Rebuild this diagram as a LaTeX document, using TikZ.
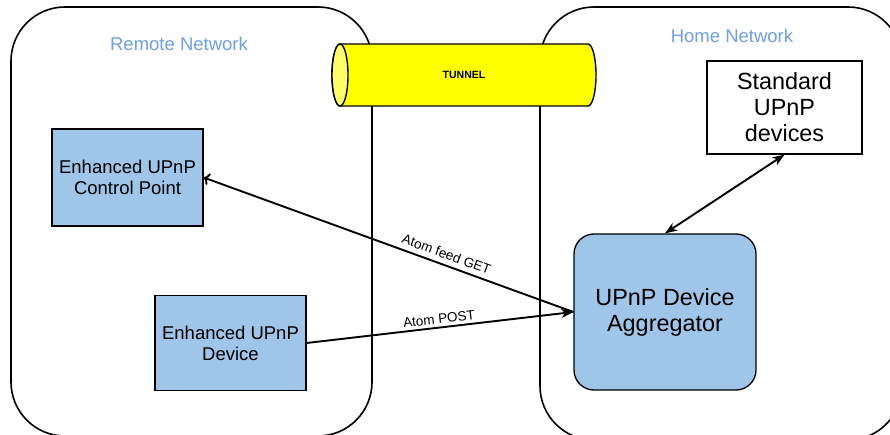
\documentclass[tikz,border=0pt]{standalone}
\usepackage{fontspec}
\setmainfont{Liberation Sans}
\usetikzlibrary{arrows.meta}
\definecolor{boxblue}{HTML}{9FC5E8}
\definecolor{netblue}{HTML}{6D9EEB}
\definecolor{tunyellow}{HTML}{FFFF00}
\definecolor{capyellow}{HTML}{FFFF66}
\tikzset{
  container/.style={draw=black, line width=1.6pt, rounded corners=54pt},
  bluebox/.style={draw=black, line width=1.3pt, fill=boxblue, align=center, inner sep=2pt,
    font=\fontsize{18.5}{21}\selectfont},
  whitebox/.style={draw=black, line width=1.3pt, fill=white, align=center, inner sep=2pt,
    font=\fontsize{23.4}{26}\selectfont},
  netlabel/.style={text=netblue, font=\fontsize{18.5}{21}\selectfont},
  conn/.style={line width=1.9pt, -{Stealth[length=12pt,width=9pt,inset=3.5pt]}},
  dconn/.style={line width=1.9pt, {Stealth[length=12pt,width=9pt,inset=3.5pt]}-{Stealth[length=12pt,width=9pt,inset=3.5pt]}},
  edgelabel/.style={font=\fontsize{13.5}{15}\selectfont, inner sep=1pt},
}
\begin{document}
\begin{tikzpicture}[x=1pt,y=-1pt]
\useasboundingbox (0,0) rectangle (890,435);
\clip (0,0) rectangle (890,435);
% containers
\draw[container] (11,7) rectangle (372,436);
\draw[container] (540,7) rectangle (902,440);
\node[netlabel] (remote) at (179,44) {Remote Network};
\node[netlabel] (home) at (732,36) {Home Network};
% tunnel
\draw[line width=1.4pt, fill=tunyellow] (340,44) -- (588,44)
  arc[start angle=90, end angle=-90, x radius=8pt, y radius=31pt]
  -- (340,106)
  arc[start angle=270, end angle=90, x radius=8pt, y radius=31pt] -- cycle;
\draw[line width=1.4pt, fill=capyellow] (340,75) ellipse[x radius=8pt, y radius=31pt];
\node[font=\bfseries\fontsize{10.5}{12}\selectfont] (tunnel) at (464,75) {TUNNEL};
% boxes
\node[bluebox, minimum width=151pt, minimum height=97pt] (cp) at (127.5,177.5) {Enhanced UPnP\\Control Point};
\node[bluebox, minimum width=151pt, minimum height=95pt] (dev) at (230.5,343) {Enhanced UPnP\\Device};
\node[whitebox, fill=boxblue, rounded corners=20pt, minimum width=182pt, minimum height=156pt] (agg) at (665,312) {UPnP Device\\Aggregator};
\node[whitebox, minimum width=155pt, minimum height=93pt] (std) at (784.5,107.5) {Standard\\UPnP\\devices};
% connectors
\draw[conn, <-] (cp.east) -- (agg.west) node[edgelabel, pos=0.647, sloped, above=4pt] {Atom feed GET};
\draw[conn] (dev.east) -- (agg.west) node[edgelabel, pos=0.5, sloped, above=2pt] {Atom POST};
\draw[dconn] (agg.north) -- (std.south);
\end{tikzpicture}
\end{document}
